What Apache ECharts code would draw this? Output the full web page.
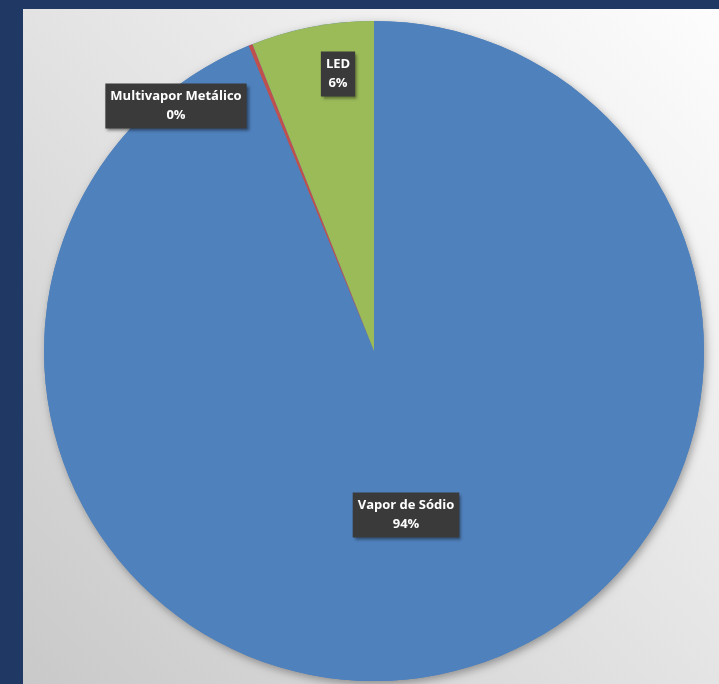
<!DOCTYPE html>
<html>
<head>
<meta charset="utf-8">
<script src="https://cdn.jsdelivr.net/npm/echarts@6/dist/echarts.min.js"></script>
<style>
  html, body { margin: 0; padding: 0; background: #1f3864; }
  #chart { width: 719px; height: 684px; }
</style>
</head>
<body>
<div id="chart"></div>
<script>
// dados do gráfico
const categories = ['Vapor de Sódio', 'Multivapor Metálico', 'LED']
const values = [93.8, 0.2, 6.0]
const colors = ['#4f81bd', '#c0504d', '#9bbb59']

// posição dos rótulos (caixas escuras), em px
const labelPos = [
  [406, 515],
  [176, 106],
  [338, 74],
]

const chart = echarts.init(document.getElementById('chart'))

chart.setOption({
  backgroundColor: '#1f3864',
  animation: false,
  graphic: [
    {
      type: 'rect',
      z: -10,
      shape: { x: 23, y: 9, width: 696, height: 675 },
      style: {
        fill: new echarts.graphic.LinearGradient(1, 0, 0, 1, [
          { offset: 0, color: '#fdfdfd' },
          { offset: 0.45, color: '#e6e6e6' },
          { offset: 1, color: '#c9c9c9' },
        ]),
      },
    },
  ],
  series: [
    // sombra do disco
    {
      type: 'pie',
      silent: true,
      center: [374, 351],
      radius: 330,
      z: 1,
      label: { show: false },
      itemStyle: {
        color: '#4f81bd',
        shadowBlur: 8,
        shadowColor: 'rgba(0,0,0,0.35)',
        shadowOffsetX: 2,
        shadowOffsetY: 3,
      },
      data: [{ value: 1, name: '' }],
    },
    {
      type: 'pie',
      center: [374, 351],
      radius: 330,
      startAngle: 90,
      clockwise: true,
      z: 2,
      minAngle: 0,
      avoidLabelOverlap: false,
      labelLine: { show: false },
      label: {
        show: true,
        position: 'inside',
        formatter: (p) => p.name + '\n' + Math.round(p.percent) + '%',
        color: '#ffffff',
        fontFamily: 'Open Sans',
        fontWeight: 'bold',
        fontSize: 13,
        lineHeight: 19,
        align: 'center',
        backgroundColor: '#3a3a3a',
        padding: [4, 5, 3, 5],
        shadowColor: 'rgba(0,0,0,0.45)',
        shadowBlur: 3,
        shadowOffsetX: 2,
        shadowOffsetY: 2,
      },
      labelLayout: (params) => {
        const pos = labelPos[params.dataIndex]
        return { x: pos[0], y: pos[1], align: 'center', verticalAlign: 'middle' }
      },
      emphasis: { disabled: true },
      data: categories.map((name, i) => ({
        name,
        value: values[i],
        itemStyle: { color: colors[i] },
      })),
    },
  ],
})
</script>
</body>
</html>
